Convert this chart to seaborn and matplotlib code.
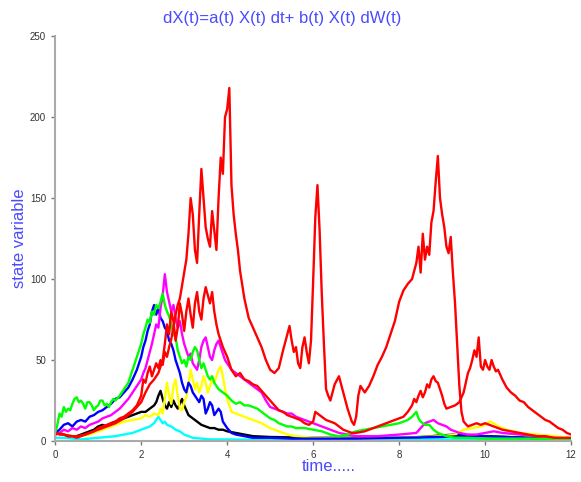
import matplotlib
matplotlib.use("Agg")
import matplotlib.pyplot as plt
import pandas as pd
import seaborn as sns

# sample paths (time, value)
t_red1 = [0, 0.1, 0.2, 0.3, 0.4, 0.5, 0.6, 0.7, 0.8, 0.9, 1.0, 1.1, 1.2, 1.3, 1.4, 1.5, 1.6, 1.7, 1.8, 1.9,
          2.0, 2.05, 2.1, 2.15, 2.2, 2.25, 2.3, 2.35, 2.4, 2.45, 2.5, 2.55, 2.6, 2.65, 2.7, 2.75, 2.8, 2.85, 2.9, 2.95,
          3.0, 3.05, 3.1, 3.15, 3.2, 3.25, 3.3, 3.35, 3.4, 3.45, 3.5, 3.55, 3.6, 3.65, 3.7, 3.75, 3.8, 3.85, 3.9, 3.95,
          4.0, 4.05, 4.1, 4.15, 4.2, 4.25, 4.3, 4.4, 4.5, 4.6, 4.7, 4.8, 4.9, 5.0, 5.1, 5.2, 5.3, 5.4, 5.45, 5.5,
          5.55, 5.6, 5.65, 5.7, 5.75, 5.8, 5.85, 5.9, 5.95, 6.0, 6.05, 6.1, 6.15, 6.2, 6.25, 6.3, 6.35, 6.4, 6.5, 6.6,
          6.7, 6.8, 6.9, 6.95, 7.0, 7.05, 7.1, 7.2, 7.3, 7.4, 7.5, 7.6, 7.7, 7.8, 7.9, 8.0, 8.1, 8.2, 8.3, 8.4,
          8.45, 8.5, 8.55, 8.6, 8.65, 8.7, 8.75, 8.8, 8.85, 8.9, 8.95, 9.0, 9.05, 9.1, 9.15, 9.2, 9.25, 9.3, 9.35, 9.4,
          9.45, 9.5, 9.6, 9.7, 9.8, 9.9, 10.0, 10.1, 10.2, 10.3, 10.4, 10.6, 10.8, 11.0, 11.2, 11.4, 11.6, 11.8, 12.0]
red1 = [5, 4, 4, 3, 3, 2, 3, 4, 5, 6, 8, 9, 10, 11, 12, 14, 15, 17, 19, 22,
        28, 38, 36, 42, 46, 40, 44, 48, 45, 50, 47, 55, 52, 58, 63, 70, 78, 84, 88, 96,
        104, 112, 128, 150, 140, 118, 110, 140, 168, 150, 132, 125, 120, 142, 130, 118, 150, 175, 165, 200,
        205, 218, 158, 140, 128, 118, 105, 88, 76, 70, 64, 58, 50, 44, 42, 45, 56, 66, 71, 62,
        55, 58, 48, 45, 58, 64, 55, 48, 62, 99, 138, 158, 130, 91, 60, 32, 28, 25, 35, 40,
        30, 20, 12, 10, 15, 28, 34, 30, 34, 40, 47, 52, 58, 66, 74, 86, 93, 97, 100, 110,
        120, 104, 128, 112, 120, 115, 135, 142, 160, 176, 150, 140, 132, 120, 116, 126, 104, 85, 60, 34,
        18, 12, 9, 10, 11, 10, 11, 10, 9, 8, 7, 6, 5, 4, 3, 3, 2, 2, 2]

t_red2 = [0, 0.2, 0.4, 0.5, 0.7, 0.9, 1.0, 1.2, 1.4, 1.6, 1.8, 2.0, 2.1, 2.2, 2.3, 2.4, 2.5, 2.55, 2.6, 2.65,
          2.7, 2.75, 2.8, 2.85, 2.9, 2.95, 3.0, 3.05, 3.1, 3.15, 3.2, 3.25, 3.3, 3.35, 3.4, 3.45, 3.5, 3.55, 3.6, 3.65,
          3.7, 3.75, 3.8, 3.85, 3.9, 4.0, 4.1, 4.2, 4.3, 4.4, 4.5, 4.6, 4.7, 4.8, 4.9, 5.0, 5.1, 5.2, 5.3, 5.4,
          5.5, 5.6, 5.7, 5.8, 5.9, 6.0, 6.05, 6.1, 6.2, 6.3, 6.4, 6.5, 6.6, 6.7, 6.8, 6.9, 7.0, 7.2, 7.4, 7.6,
          7.8, 8.0, 8.1, 8.2, 8.3, 8.35, 8.4, 8.45, 8.5, 8.55, 8.6, 8.65, 8.7, 8.75, 8.8, 8.85, 8.9, 8.95, 9.0, 9.05,
          9.1, 9.2, 9.3, 9.4, 9.5, 9.55, 9.6, 9.65, 9.7, 9.75, 9.8, 9.85, 9.9, 9.95, 10.0, 10.05, 10.1, 10.15, 10.2, 10.25,
          10.3, 10.4, 10.5, 10.6, 10.7, 10.8, 10.9, 11.0, 11.1, 11.2, 11.3, 11.4, 11.5, 11.6, 11.7, 11.8, 11.9, 12.0]
red2 = [5, 4, 3, 3, 4, 6, 7, 9, 11, 14, 18, 24, 30, 35, 38, 42, 50, 60, 72, 66,
        80, 74, 62, 70, 85, 78, 68, 80, 88, 78, 70, 85, 92, 80, 75, 88, 95, 90, 85, 92,
        80, 72, 66, 62, 58, 52, 44, 40, 42, 38, 37, 35, 34, 31, 28, 25, 22, 19, 18, 16,
        15, 14, 13, 11, 10, 12, 18, 17, 15, 13, 12, 11, 9, 7, 6, 5, 5, 6, 8, 10,
        12, 14, 15, 18, 22, 26, 24, 28, 31, 27, 30, 35, 33, 38, 40, 37, 36, 32, 28, 23,
        20, 21, 22, 24, 30, 36, 42, 45, 50, 56, 52, 64, 46, 44, 50, 46, 44, 50, 46, 43,
        44, 38, 33, 30, 28, 25, 24, 21, 19, 17, 15, 13, 12, 10, 8, 7, 5, 4]

t_blue = [0, 0.1, 0.2, 0.3, 0.4, 0.5, 0.6, 0.7, 0.8, 0.9, 1.0, 1.1, 1.2, 1.3, 1.4, 1.5, 1.6, 1.7, 1.8, 1.9,
          2.0, 2.05, 2.1, 2.15, 2.2, 2.25, 2.3, 2.35, 2.4, 2.45, 2.5, 2.55, 2.6, 2.65, 2.7, 2.75, 2.8, 2.85, 2.9, 2.95,
          3.0, 3.05, 3.1, 3.15, 3.2, 3.25, 3.3, 3.35, 3.4, 3.45, 3.5, 3.55, 3.6, 3.65, 3.7, 3.75, 3.8, 3.85, 3.9, 3.95,
          4.0, 4.1, 4.2, 4.4, 4.6, 5.0, 5.5, 6.0, 7.0, 8.0, 9.0, 9.5, 10.0, 10.5, 11.0, 11.5, 12.0]
blue = [5, 7, 10, 11, 9, 12, 13, 12, 15, 16, 18, 19, 21, 23, 26, 27, 30, 33, 38, 44,
        52, 58, 62, 68, 72, 80, 84, 78, 82, 76, 74, 70, 68, 62, 60, 56, 50, 46, 42, 36,
        32, 30, 36, 34, 30, 28, 26, 24, 28, 26, 17, 20, 24, 22, 16, 18, 20, 18, 12, 10,
        8, 5, 4, 3, 2, 2, 1.5, 1.5, 1.5, 2, 2.5, 3, 3, 2.5, 2, 1.5, 1]

t_green = [0, 0.05, 0.1, 0.15, 0.2, 0.25, 0.3, 0.35, 0.4, 0.45, 0.5, 0.55, 0.6, 0.65, 0.7, 0.75, 0.8, 0.85, 0.9, 0.95,
           1.0, 1.05, 1.1, 1.15, 1.2, 1.25, 1.3, 1.35, 1.4, 1.5, 1.6, 1.7, 1.8, 1.9, 2.0, 2.05, 2.1, 2.15, 2.2, 2.25,
           2.3, 2.35, 2.4, 2.45, 2.5, 2.55, 2.6, 2.65, 2.7, 2.75, 2.8, 2.85, 2.9, 2.95, 3.0, 3.05, 3.1, 3.15, 3.2, 3.25,
           3.3, 3.35, 3.4, 3.45, 3.5, 3.55, 3.6, 3.65, 3.7, 3.8, 3.9, 4.0, 4.1, 4.2, 4.3, 4.4, 4.5, 4.6, 4.7, 4.8,
           4.9, 5.0, 5.1, 5.2, 5.3, 5.4, 5.5, 5.6, 5.8, 6.0, 6.2, 6.4, 6.6, 6.8, 7.0, 7.2, 7.4, 7.6, 7.8, 8.0,
           8.1, 8.2, 8.3, 8.4, 8.45, 8.5, 8.6, 8.7, 8.8, 8.9, 9.0, 9.1, 9.3, 9.6, 10.0, 11.0, 12.0]
green = [5, 10, 17, 15, 21, 18, 20, 19, 23, 26, 27, 24, 25, 23, 20, 24, 24, 22, 19, 21,
         22, 25, 25, 22, 23, 21, 24, 26, 25, 28, 32, 36, 44, 52, 60, 66, 70, 75, 73, 80,
         78, 84, 82, 86, 91, 84, 80, 77, 72, 66, 64, 56, 52, 48, 50, 46, 52, 50, 55, 58,
         56, 50, 45, 48, 44, 40, 38, 40, 36, 32, 30, 28, 25, 23, 24, 22, 22, 21, 20, 18,
         16, 14, 13, 11, 10, 9, 9, 8, 8, 7, 6, 4, 3, 4, 6, 7, 8, 9, 10, 11,
         12, 13, 15, 18, 14, 12, 10, 10, 7, 5, 4, 3, 2, 2, 1.5, 1.5, 1]

t_magenta = [0, 0.1, 0.2, 0.3, 0.4, 0.5, 0.6, 0.7, 0.8, 0.9, 1.0, 1.1, 1.2, 1.3, 1.4, 1.5, 1.6, 1.7, 1.8, 1.9,
             2.0, 2.05, 2.1, 2.15, 2.2, 2.25, 2.3, 2.35, 2.4, 2.45, 2.5, 2.55, 2.6, 2.65, 2.7, 2.75, 2.8, 2.85, 2.9, 2.95,
             3.0, 3.05, 3.1, 3.15, 3.2, 3.25, 3.3, 3.35, 3.4, 3.45, 3.5, 3.55, 3.6, 3.65, 3.7, 3.75, 3.8, 3.85, 3.9, 3.95,
             4.0, 4.1, 4.2, 4.3, 4.4, 4.5, 4.6, 4.7, 4.8, 4.9, 5.0, 5.1, 5.2, 5.3, 5.4, 5.5, 5.6, 5.7, 5.8, 5.9,
             6.0, 6.2, 6.4, 6.6, 6.8, 7.0, 7.5, 8.0, 8.4, 8.5, 8.6, 8.7, 8.8, 8.9, 9.0, 9.1, 9.2, 9.4, 9.6, 9.8,
             10.0, 10.2, 10.4, 10.8, 11.2, 11.6, 12.0]
magenta = [4, 5, 7, 6, 8, 7, 9, 8, 10, 11, 12, 14, 15, 16, 18, 20, 23, 26, 30, 34,
           38, 42, 45, 50, 55, 60, 66, 72, 70, 82, 90, 103, 92, 86, 80, 84, 76, 70, 74, 66,
           60, 56, 52, 54, 48, 46, 44, 50, 58, 62, 64, 58, 52, 50, 56, 60, 62, 58, 54, 50,
           48, 44, 42, 40, 38, 36, 34, 32, 30, 25, 21, 20, 19, 18, 17, 17, 15, 14, 13, 12,
           11, 9, 7, 5, 4, 3, 3, 4, 5, 8, 11, 12, 13, 11, 10, 9, 7, 5, 4, 4,
           5, 6, 5, 4, 3, 2, 1]

t_yellow = [0, 0.2, 0.4, 0.6, 0.8, 1.0, 1.2, 1.4, 1.6, 1.8, 2.0, 2.1, 2.2, 2.3, 2.4, 2.45, 2.5, 2.55, 2.6, 2.65,
            2.7, 2.75, 2.8, 2.85, 2.9, 2.95, 3.0, 3.05, 3.1, 3.15, 3.2, 3.25, 3.3, 3.35, 3.4, 3.45, 3.5, 3.55, 3.6, 3.65,
            3.7, 3.75, 3.8, 3.85, 3.9, 3.95, 4.0, 4.05, 4.1, 4.2, 4.3, 4.4, 4.5, 4.6, 4.7, 4.8, 5.0, 5.2, 5.4, 5.6,
            6.0, 7.0, 8.0, 8.5, 9.0, 9.3, 9.5, 9.7, 9.9, 10.0, 10.1, 10.2, 10.3, 10.5, 10.8, 11.2, 11.6, 12.0]
yellow = [5, 4, 3, 3, 4, 6, 8, 10, 12, 13, 14, 16, 15, 17, 16, 20, 17, 26, 36, 28,
          23, 34, 38, 28, 20, 19, 24, 27, 35, 44, 38, 32, 36, 30, 34, 40, 36, 30, 34, 38,
          36, 40, 44, 46, 40, 32, 26, 22, 18, 17, 16, 15, 14, 13, 12, 11, 8, 6, 4, 3,
          2, 1.5, 2, 2.5, 3, 4, 7, 8, 9, 10, 12, 11, 9, 7, 5, 4, 3, 2]

t_black = [0, 0.1, 0.2, 0.3, 0.5, 0.7, 0.9, 1.0, 1.1, 1.2, 1.3, 1.4, 1.5, 1.6, 1.7, 1.8, 1.9, 2.0, 2.1, 2.2,
           2.3, 2.35, 2.4, 2.45, 2.5, 2.55, 2.6, 2.65, 2.7, 2.75, 2.8, 2.85, 2.9, 2.95, 3.0, 3.05, 3.1, 3.2, 3.3, 3.4,
           3.5, 3.6, 3.7, 3.8, 3.9, 4.0, 4.2, 4.4, 4.6, 5.0, 6.0, 7.0, 8.0, 8.5, 9.0, 9.3, 9.6, 10.0, 10.5, 11.0, 12.0]
black = [4, 5, 4, 3, 3, 5, 7, 9, 10, 9, 11, 12, 13, 14, 15, 16, 17, 18, 18, 20,
         22, 24, 28, 31, 26, 22, 20, 24, 21, 25, 22, 20, 23, 26, 22, 19, 16, 14, 12, 10,
         9, 8, 8, 7, 7, 6, 5, 4, 3, 2.5, 2, 2, 2, 2.5, 3.5, 4, 3.5, 3, 2.5, 2, 1]

t_cyan = [0, 0.2, 0.4, 0.6, 0.8, 1.0, 1.2, 1.4, 1.6, 1.8, 2.0, 2.1, 2.2, 2.3, 2.35, 2.4, 2.45, 2.5, 2.55, 2.6,
          2.7, 2.8, 2.9, 3.0, 3.1, 3.2, 3.4, 3.6, 4.0, 6.0, 8.0, 10.0, 12.0]
cyan = [2, 2, 1.5, 1, 1.5, 2, 2.5, 3, 4, 5, 7, 8, 9, 11, 13, 15, 13, 11, 12, 10,
        9, 7, 6, 4, 3, 2, 1.5, 1, 1, 0.5, 1, 1, 0.5]

paths = [
    (t_cyan, cyan, "#00ffff"),
    (t_black, black, "#000000"),
    (t_yellow, yellow, "#ffff00"),
    (t_blue, blue, "#0000ff"),
    (t_magenta, magenta, "#ff00ff"),
    (t_green, green, "#00ff00"),
    (t_red2, red2, "#ff0000"),
    (t_red1, red1, "#ff0000"),
]

sns.set_style("ticks")
plt.rcParams["font.family"] = ["Liberation Sans", "DejaVu Sans"]

fig = plt.figure(figsize=(5.81, 4.82), dpi=100)
ax = fig.add_axes([0.095, 0.085, 0.888, 0.84])

for tt, vv, col in paths:
    sns.lineplot(x=tt, y=vv, color=col, linewidth=1.7, ax=ax, estimator=None, sort=False)

ax.set_xlim(0, 12)
ax.set_ylim(0, 250)
ax.set_xticks([0, 2, 4, 6, 8, 10, 12])
ax.set_yticks([0, 50, 100, 150, 200, 250])
ax.tick_params(labelsize=7, colors="#777777", length=3, width=1, direction="out")
for lab in ax.get_xticklabels() + ax.get_yticklabels():
    lab.set_color("#333333")
sns.despine(ax=ax)
for side in ["left", "bottom"]:
    ax.spines[side].set_color("#aaaaaa")
    ax.spines[side].set_linewidth(1.5)

blue_txt = "#4a4aff"
fig.text(0.485, 0.962, "dX(t)=a(t) X(t) dt+ b(t) X(t) dW(t)", color=blue_txt, fontsize=12,
         ha="center", va="center")
ax.set_ylabel("state variable", color=blue_txt, fontsize=12, labelpad=2)
ax.set_xlabel("time.....", color=blue_txt, fontsize=12, labelpad=2)
ax.xaxis.set_label_coords(0.53, -0.045)

fig.savefig("out.png", dpi=100)
